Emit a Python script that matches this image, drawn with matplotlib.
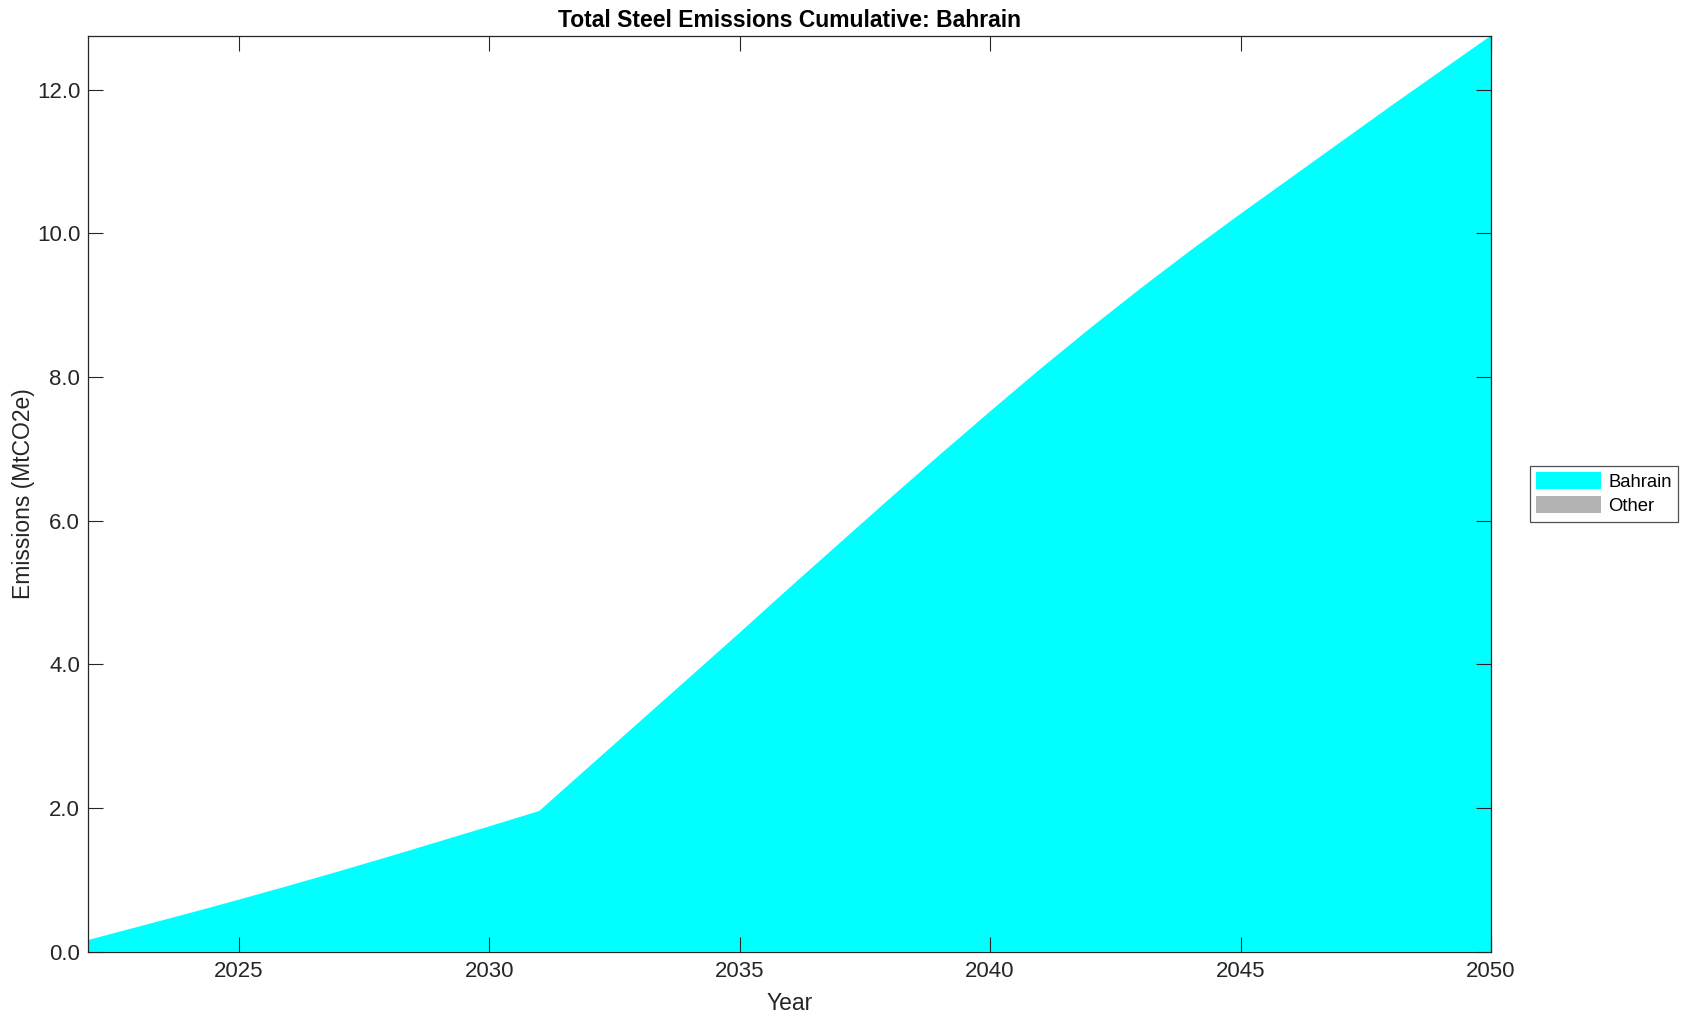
import numpy as np
import matplotlib.pyplot as plt
from matplotlib.ticker import FormatStrFormatter

plt.rcParams['font.family'] = ['Liberation Sans', 'DejaVu Sans']

# Cumulative emissions (MtCO2e)
years = np.arange(2022, 2051)
bahrain = [0.165, 0.35, 0.535, 0.725, 0.92, 1.12, 1.325, 1.535, 1.745, 1.96,
           2.58, 3.20, 3.82, 4.44, 5.07, 5.69, 6.31, 6.92, 7.52, 8.11,
           8.68, 9.23, 9.76, 10.27, 10.77, 11.27, 11.77, 12.26, 12.75]
other = [0.0] * len(years)

series_names = ["Bahrain", "Other"]
series_colors = ["#00ffff", "#b3b3b3"]

fig = plt.figure(figsize=(16.92, 10.21), dpi=100)
ax = fig.add_axes([0.0523, 0.0678, 0.8289, 0.8973])

ax.stackplot(years, bahrain, other, labels=series_names,
             colors=series_colors, linewidth=0)

ax.set_xlim(years[0], years[-1])
ax.set_ylim(0, max(np.array(bahrain) + np.array(other)))
ax.set_xticks([2025, 2030, 2035, 2040, 2045, 2050])
ax.set_yticks(np.arange(0, 13, 2.0))
ax.yaxis.set_major_formatter(FormatStrFormatter('%.1f'))

ax.tick_params(direction='in', length=11, width=0.8, colors='#262626',
               labelsize=16, top=True, right=True, pad=7)
ax.tick_params(axis='y', pad=6)
for sp in ax.spines.values():
    sp.set_color('#262626')
    sp.set_linewidth(0.9)

ax.set_xlabel("Year", fontsize=16.5, color='#262626', labelpad=7)
ax.set_ylabel("Emissions (MtCO2e)", fontsize=16.5, color='#262626', labelpad=1)
ax.set_title("Total Steel Emissions Cumulative: Bahrain", fontsize=16.5,
             fontweight='bold', pad=6)

leg = ax.legend(loc='center left', bbox_to_anchor=(1.0275, 0.5), fontsize=13.3,
                frameon=True, fancybox=False, edgecolor='#262626',
                handlelength=3.5, handleheight=1.0, borderpad=0.35,
                labelspacing=0.3, handletextpad=0.4, borderaxespad=0)
leg.get_frame().set_linewidth(0.9)

fig.savefig("out.png", dpi=100)
